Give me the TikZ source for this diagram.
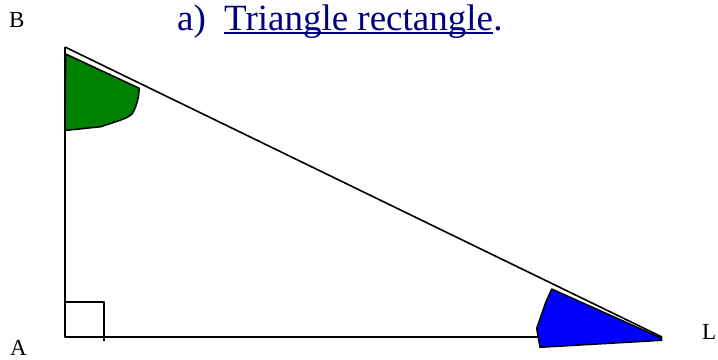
\documentclass[tikz,border=0pt]{standalone}
\usepackage{fontspec}
\setmainfont{Liberation Serif}
\definecolor{titleblue}{RGB}{0,0,128}
\definecolor{anggreen}{RGB}{0,128,0}
\definecolor{angblue}{RGB}{0,0,255}
\begin{document}
\begin{tikzpicture}[x=1pt,y=-1pt,line join=round,
  edge/.style={line width=1.6pt},
  angfill/.style={draw=black,line width=1.5pt},
  lbl/.style={font=\fontsize{23}{27}\selectfont,inner sep=0pt,anchor=base west},
  ttl/.style={font=\fontsize{37}{43}\selectfont,inner sep=0pt,anchor=base west,text=titleblue}]
\useasboundingbox (0,0) rectangle (718,359);
\coordinate (A) at (65,337);
\coordinate (B) at (65,47);
\coordinate (L) at (662,337);
% triangle
\draw[edge] (B) -- (A) -- (L);
\draw[edge] (B) -- (L);
% right angle mark
\coordinate (r1) at (65,302);
\coordinate (r2) at (104,302);
\coordinate (r3) at (104,341);
\draw[edge] (r1) -- (r2) -- (r3);
% green angle at B
\filldraw[angfill,fill=anggreen] (65.7,54) -- (139.3,88.3)
  .. controls (138.5,98) and (137,106) .. (132,114)
  .. controls (129,117) and (124,119) .. (118,121)
  -- (101,126.7) -- (65,130.5) -- cycle;
% blue angle at L
\filldraw[angfill,fill=angblue] (551.7,289) -- (661.7,338.3) -- (661.7,340.3)
  -- (540,347.3) -- (536.7,328.3) -- (546,301.7) -- cycle;
% labels
\node[lbl] (lB) at (9,27.5) {B};
\node[lbl] (lA) at (10,355.5) {A};
\node[lbl] (lL) at (702,339) {L};
% title
\node[ttl] (ta) at (177,30) {a)};
\node[ttl] (tt) at (224,30) {Triangle rectangle};
\node[ttl] (tp) at (tt.base east) {.};
\draw[titleblue,line width=1.5pt] ([yshift=-2.8pt]tt.base west) -- ([yshift=-2.8pt]tt.base east);
\end{tikzpicture}
\end{document}
